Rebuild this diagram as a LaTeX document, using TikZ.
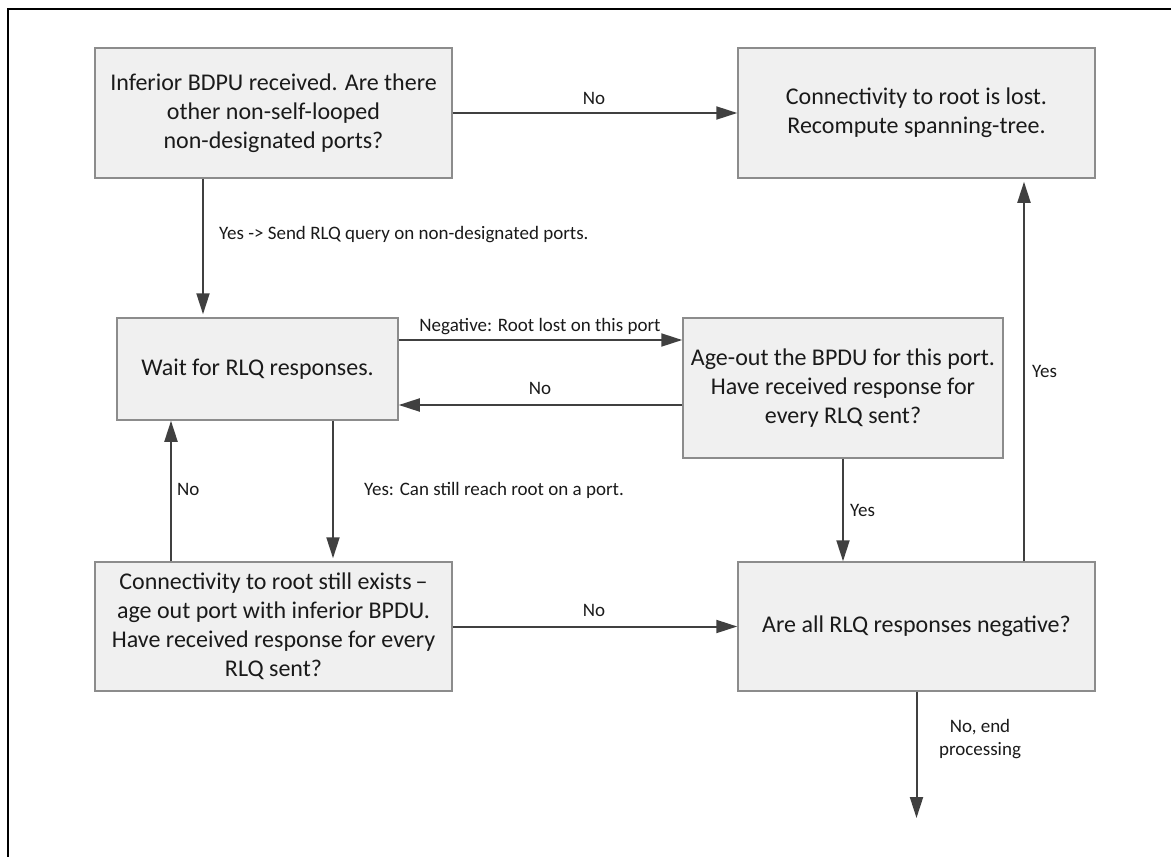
\documentclass[tikz,border=0pt]{standalone}
\usepackage{fontspec}
\setmainfont{Carlito}
\usetikzlibrary{arrows.meta}
\definecolor{boxfill}{HTML}{F0F0F0}
\definecolor{boxline}{HTML}{8C8C8C}
\definecolor{wire}{HTML}{404040}
\definecolor{ink}{HTML}{1A1A1A}
\begin{document}
\begin{tikzpicture}[x=1pt,y=-1pt,
  stepbox/.style={draw=boxline, line width=1.5pt, fill=boxfill, inner sep=0pt,
    align=center, text=ink, font=\fontsize{24}{29}\selectfont},
  flow/.style={draw=wire, line width=2pt, -{Triangle[length=21pt,width=13pt]}},
  gap/.style={shorten >=3pt},
  lbl/.style={inner sep=0pt, text=ink, font=\fontsize{19}{23}\selectfont, align=center},
]
\useasboundingbox (0,0) rectangle (1171,857);
% page frame
\draw[line width=1.3pt, black] (8,857) |- (1171,9);

% process boxes
\node[stepbox, minimum width=357pt, minimum height=130pt] (b1) at (273.5,113)
  {Inferior BDPU received. Are there\\other non-self-looped\\non-designated ports?};
\node[stepbox, minimum width=357pt, minimum height=130pt] (b2) at (916.5,113)
  {Connectivity to root is lost.\\Recompute spanning-tree.};
\node[stepbox, minimum width=281pt, minimum height=102pt] (b3) at (257.5,369)
  {Wait for RLQ responses.};
\node[stepbox, minimum width=320pt, minimum height=140pt] (b4) at (843,388)
  {Age-out the BPDU for this port.\\Have received response for\\every RLQ sent?};
\node[stepbox, minimum width=357pt, minimum height=129pt] (b5) at (273.5,626.5)
  {Connectivity to root still exists\,–\\age out port with inferior BPDU.\\Have received response for every\\RLQ sent?};
\node[stepbox, minimum width=357pt, minimum height=129pt] (b6) at (916.5,626.5)
  {Are all RLQ responses negative?};

% routing columns and rows
\coordinate (c1) at (203,0);
\coordinate (c2) at (171,0);
\coordinate (c3) at (333,0);
\coordinate (c4) at (1024,0);
\coordinate (r1) at (0,340);
\coordinate (r2) at (0,405);
\coordinate (stop) at (916.5,818);

% connectors
\draw[flow] (b1.east) -- (b2.west);
\draw[flow, gap] (b1.south -| c1) -- (b3.north -| c1);
\draw[flow] (b3.east |- r1) -- (b4.west |- r1);
\draw[flow] (b4.west |- r2) -- (b3.east |- r2);
\draw[flow, gap] (b3.south -| c3) -- (b5.north -| c3);
\draw[flow] (b5.north -| c2) -- (b3.south -| c2);
\draw[flow] (b4.south) -- (b4.south |- b6.north);
\draw[flow, gap] (b6.north -| c4) -- (b2.south -| c4);
\draw[flow] (b5.east) -- (b6.west);
\draw[flow] (b6.south) -- (stop);

% connector labels
\node[lbl, anchor=base] (l1) at (594,104) {No};
\node[lbl, anchor=base west] (l2) at (219,239) {Yes -> Send RLQ query on non-designated ports.};
\node[lbl, anchor=base] (l3) at (540,331) {Negative: Root lost on this port};
\node[lbl, anchor=base] (l4) at (540,394) {No};
\node[lbl, anchor=base west] (l5) at (177,495) {No};
\node[lbl, anchor=base west] (l6) at (364,495) {Yes: Can still reach root on a port.};
\node[lbl, anchor=base west] (l7) at (1032,377) {Yes};
\node[lbl, anchor=base west] (l8) at (850,516) {Yes};
\node[lbl, anchor=base] (l9) at (594,616) {No};
\node[lbl, anchor=base] (l10) at (980,755) {No, end\\processing};
\end{tikzpicture}
\end{document}
